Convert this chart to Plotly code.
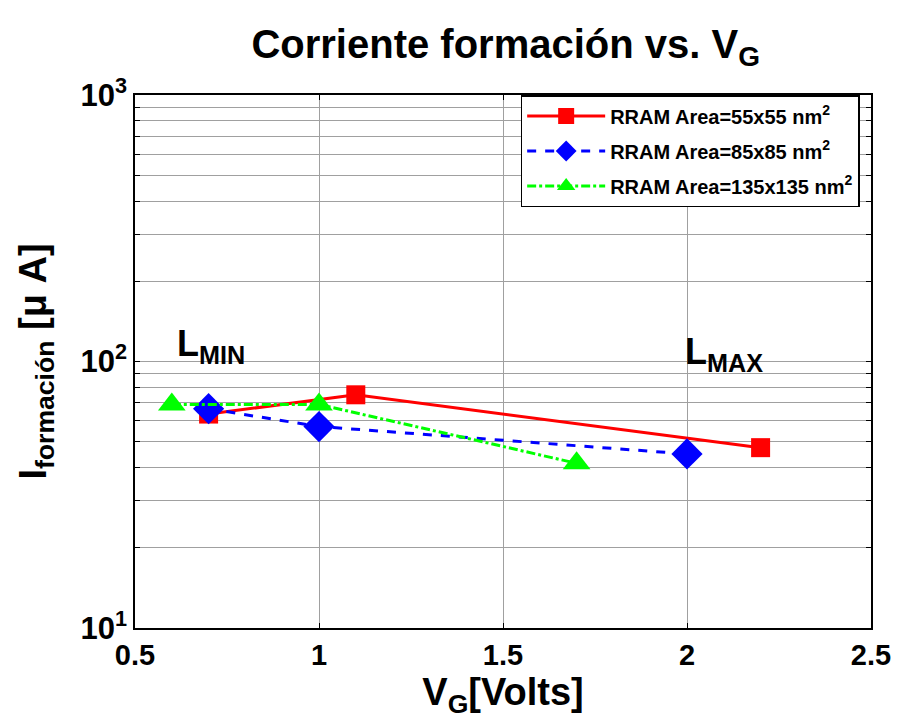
import plotly.graph_objects as go

vg_55 = [0.7, 1.1, 2.2]
i_55 = [63.5, 75, 47.5]
vg_85 = [0.7, 1.0, 2.0]
i_85 = [66.5, 57, 45]
vg_135 = [0.6, 1.0, 1.7]
i_135 = [69, 69, 41.5]

names = ["<b>RRAM Area=55x55 nm<sup>2</sup></b>", "<b>RRAM Area=85x85 nm<sup>2</sup></b>",
         "<b>RRAM Area=135x135 nm<sup>2</sup></b>"]

FONT = "Liberation Sans, Arial, sans-serif"

fig = go.Figure()
fig.add_trace(go.Scatter(x=vg_55, y=i_55, name=names[0], mode="lines+markers", legendgroup="a",
                         line=dict(color="#ff0000", width=3, dash="solid"),
                         marker=dict(symbol="square", size=19, color="#ff0000")))
fig.add_trace(go.Scatter(x=vg_85, y=i_85, name=names[1], mode="lines+markers", legendgroup="b",
                         line=dict(color="#0000ff", width=3, dash="dash"),
                         marker=dict(symbol="diamond", size=24, color="#0000ff")))
fig.add_trace(go.Scatter(x=vg_135, y=i_135, name=names[2], mode="lines+markers", legendgroup="c",
                         line=dict(color="#00ff00", width=3, dash="dashdot"),
                         marker=dict(symbol="triangle-up", size=24, color="#00ff00")))

yvals = []
ytext = []
for dec in [10, 100]:
    for m in range(1, 10):
        yvals.append(dec * m)
        ytext.append(f"10<sup>{len(str(dec))-1}</sup>" if m == 1 else "")
yvals.append(1000)
ytext.append("10<sup>3</sup>")

fig.update_layout(
    width=903, height=727,
    paper_bgcolor="white", plot_bgcolor="white",
    margin=dict(l=135, r=23, t=95, b=99),
    font=dict(family=FONT, color="black"),
    title=dict(text="<b>Corriente formación vs. V<sub>G</sub></b>", x=0.56, xanchor="center",
               y=0.94, yanchor="middle", font=dict(size=40, family=FONT)),
    legend=dict(x=0.524, y=1.0, xanchor="left", yanchor="top",
                bgcolor="white", bordercolor="black", borderwidth=1.5,
                font=dict(size=20, family=FONT), itemwidth=78, tracegroupgap=6),
    showlegend=True,
)
fig.update_xaxes(range=[0.5, 2.5], tickvals=[0.5, 1, 1.5, 2, 2.5],
                 ticktext=["<b>0.5</b>", "<b>1</b>", "<b>1.5</b>", "<b>2</b>", "<b>2.5</b>"],
                 tickfont=dict(size=29), showgrid=True, gridcolor="#a0a0a0", gridwidth=1,
                 showline=True, linecolor="black", linewidth=1.5, mirror="ticks",
                 ticks="inside", ticklen=5, tickcolor="black", zeroline=False,
                 title=dict(text="<b>V<sub>G</sub>[Volts]</b>", font=dict(size=38), standoff=2))
fig.update_yaxes(type="log", range=[1, 3], tickvals=yvals,
                 ticktext=[f"<b>{t}</b>" if t else "" for t in ytext],
                 tickfont=dict(size=31), showgrid=True, gridcolor="#a0a0a0", gridwidth=1,
                 showline=True, linecolor="black", linewidth=1.5, mirror="ticks",
                 ticks="inside", ticklen=5, tickcolor="black", zeroline=False,
                 title=dict(text="<b>I<sub>formación</sub> [μ A]</b>", font=dict(size=38), standoff=22))

fig.add_annotation(x=0.61, y=2.06, xref="x", yref="y", yanchor="middle", xanchor="left",
                   text="<b>L<sub>MIN</sub></b>", showarrow=False, font=dict(size=36, family=FONT))
fig.add_annotation(x=1.99, y=2.03, xref="x", yref="y", yanchor="middle", xanchor="left",
                   text="<b>L<sub>MAX</sub></b>", showarrow=False, font=dict(size=36, family=FONT))

fig.write_html("out.html")
